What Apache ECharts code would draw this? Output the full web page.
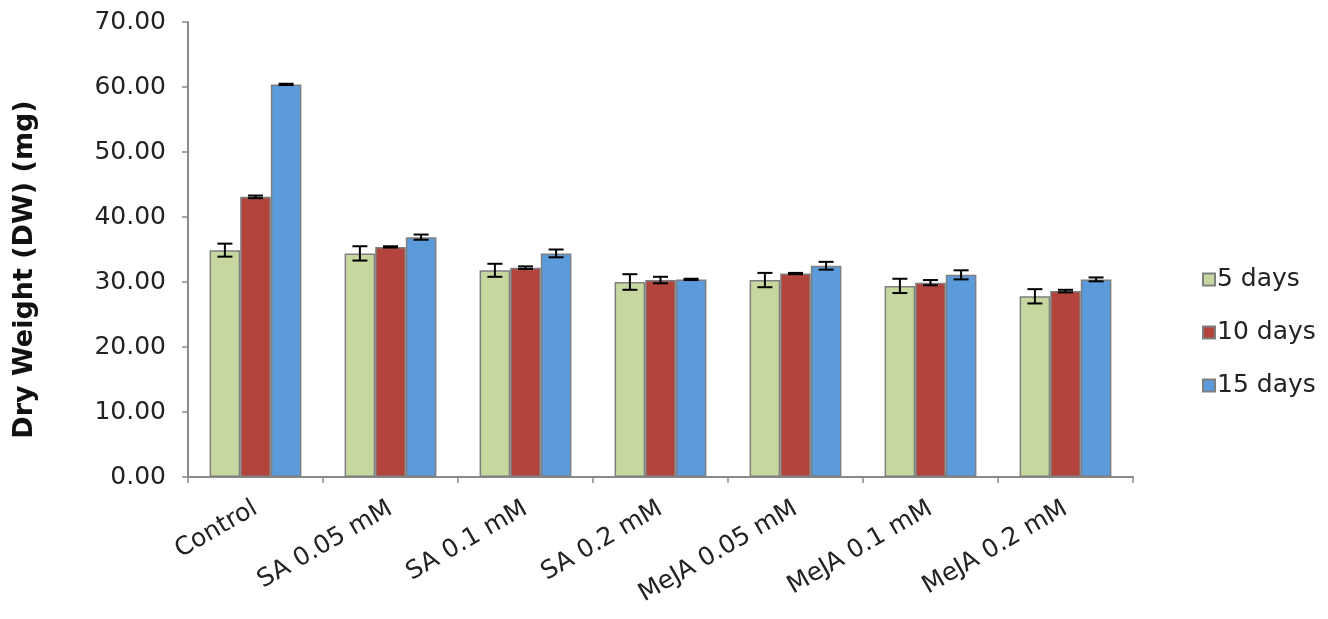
<!DOCTYPE html>
<html>
<head>
<meta charset="utf-8">
<script src="https://cdn.jsdelivr.net/npm/echarts@6/dist/echarts.min.js"></script>
<style>
html,body{margin:0;padding:0;background:#fff;}
#main{width:1328px;height:619px;}
</style>
</head>
<body>
<div id="main"></div>
<script>
var categories = ['Control', 'SA 0.05 mM', 'SA 0.1 mM', 'SA 0.2 mM', 'MeJA 0.05 mM', 'MeJA 0.1 mM', 'MeJA 0.2 mM'];
var seriesNames = ['5 days', '10 days', '15 days'];
var days5 = [34.9, 34.4, 31.8, 30.0, 30.3, 29.4, 27.8];
var err5 = [1.0, 1.1, 1.0, 1.2, 1.1, 1.1, 1.1];
var days10 = [43.1, 35.4, 32.2, 30.3, 31.3, 29.9, 28.6];
var err10 = [0.2, 0.1, 0.2, 0.5, 0.1, 0.4, 0.2];
var days15 = [60.4, 36.9, 34.4, 30.4, 32.5, 31.1, 30.4];
var err15 = [0.1, 0.4, 0.6, 0.1, 0.6, 0.7, 0.3];
var yTicks = [0, 10, 20, 30, 40, 50, 60, 70];

var colors = ['#c6d8a0', '#b2443c', '#5b9bdc'];
var CAT_GAP = 0.32;
var values = [days5, days10, days15];
var errors = [err5, err10, err15];
var FONT = 'DejaVu Sans';

var chart = echarts.init(document.getElementById('main'), null, {renderer: 'canvas'});

var series = [];
values.forEach(function (vals, i) {
  series.push({
    name: seriesNames[i],
    type: 'bar',
    data: vals,
    barGap: '0%',
    barCategoryGap: (CAT_GAP * 100) + '%',
    itemStyle: {color: colors[i], borderColor: '#7f7f7f', borderWidth: 1.5},
    emphasis: {disabled: true}
  });
});
values.forEach(function (vals, i) {
  var data = vals.map(function (v, k) { return [k, v, errors[i][k]]; });
  series.push({
    name: 'err' + i,
    type: 'custom',
    z: 10,
    data: data,
    renderItem: function (params, api) {
      var k = api.value(0), v = api.value(1), e = api.value(2);
      var band = api.size([1, 0])[0];
      var gw = band * (1 - CAT_GAP);
      var w = gw / 3;
      var c = api.coord([k, v]);
      var x = c[0] - gw / 2 + w * (i + 0.5);
      var yHi = api.coord([k, v + e])[1];
      var yLo = api.coord([k, v - e])[1];
      var cap = 7.5;
      var st = {stroke: '#000', lineWidth: 2};
      return {
        type: 'group',
        children: [
          {type: 'line', shape: {x1: x, y1: yHi, x2: x, y2: yLo}, style: st},
          {type: 'line', shape: {x1: x - cap, y1: yHi, x2: x + cap, y2: yHi}, style: st},
          {type: 'line', shape: {x1: x - cap, y1: yLo, x2: x + cap, y2: yLo}, style: st}
        ]
      };
    }
  });
});

chart.setOption({
  animation: false,
  backgroundColor: '#fff',
  textStyle: {fontFamily: FONT},
  grid: {left: 188, right: 195, top: 22, bottom: 142, containLabel: false},
  legend: {
    data: seriesNames,
    orient: 'vertical',
    left: 1197,
    top: 262,
    itemWidth: 12,
    itemHeight: 12,
    itemGap: 28,
    icon: 'rect',
    textStyle: {fontFamily: FONT, fontSize: 25, color: '#222', padding: [0, 0, 0, -3]}
  },
  xAxis: {
    type: 'category',
    data: categories,
    axisLine: {lineStyle: {color: '#8a8a8a', width: 2}},
    axisTick: {show: true, alignWithLabel: false, length: 6, inside: false, lineStyle: {color: '#8a8a8a', width: 1.5}},
    axisLabel: {rotate: 30, margin: 30, fontFamily: FONT, fontSize: 25, color: '#222', interval: 0}
  },
  yAxis: {
    type: 'value',
    min: yTicks[0],
    max: yTicks[yTicks.length - 1],
    interval: yTicks[1] - yTicks[0],
    name: 'Dry Weight (DW) (mg)',
    nameLocation: 'middle',
    nameGap: 150,
    nameTextStyle: {fontFamily: FONT, fontSize: 27, fontWeight: 'bold', color: '#111', padding: [0, 40, 0, 0]},
    splitLine: {show: false},
    axisLine: {show: true, lineStyle: {color: '#8a8a8a', width: 2}},
    axisTick: {show: true, length: 6, lineStyle: {color: '#8a8a8a', width: 1.5}},
    axisLabel: {
      margin: 22,
      fontFamily: FONT, fontSize: 25, color: '#222',
      formatter: function (v) { return v.toFixed(2); }
    }
  },
  series: series
});
</script>
</body>
</html>
